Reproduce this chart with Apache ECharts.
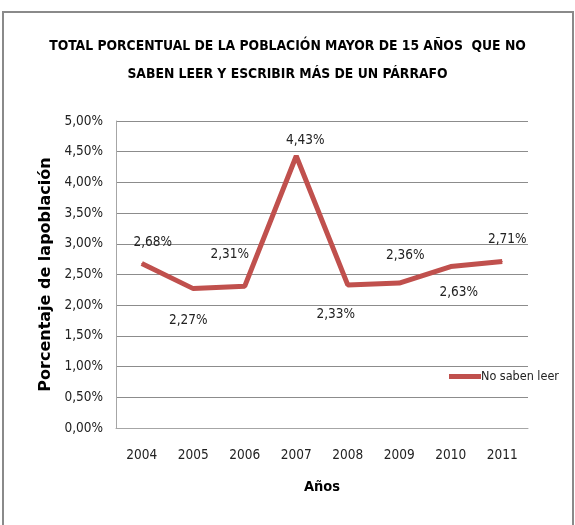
<!DOCTYPE html>
<html>
<head>
<meta charset="utf-8">
<script src="https://cdn.jsdelivr.net/npm/echarts@6/dist/echarts.min.js"></script>
<style>
  html, body { margin: 0; padding: 0; background: #fff; }
  #chart { width: 575px; height: 525px; }
</style>
</head>
<body>
<div id="chart"></div>
<script>
var years = ['2004', '2005', '2006', '2007', '2008', '2009', '2010', '2011'];
var noSabenLeer = [2.68, 2.27, 2.31, 4.43, 2.33, 2.36, 2.63, 2.71];
var yTicks = [0, 0.5, 1, 1.5, 2, 2.5, 3, 3.5, 4, 4.5, 5];
// where each value label sits relative to its point (like Excel's manual placement)
var labelOffsets = [[11, -21], [-5, 32], [-15, -32], [9, -15], [-12, 30], [6, -28], [8, 26], [5, -22]];

var narrow = "'Liberation Sans Narrow', 'DejaVu Sans Condensed', sans-serif";
var lineColor = '#c0504d';

function pct(v) {
    return v.toFixed(2).replace('.', ',') + '%';
}

var chart = echarts.init(document.getElementById('chart'));
var option = {
    animation: false,
    backgroundColor: '#fff',
    graphic: [{
        type: 'rect',
        shape: { x: 3, y: 12, width: 570, height: 600 },
        style: { fill: 'none', stroke: '#8a8a8a', lineWidth: 2 }
    }],
    title: {
        text: 'TOTAL PORCENTUAL DE LA POBLACIÓN MAYOR DE 15 AÑOS  QUE NO\nSABEN LEER Y ESCRIBIR MÁS DE UN PÁRRAFO',
        left: 'center',
        top: 27,
        textStyle: {
            fontFamily: narrow,
            fontSize: 13.8,
            fontWeight: 'bold',
            color: '#000',
            lineHeight: 28
        }
    },
    legend: {
        left: 444,
        top: 365,
        icon: 'rect',
        itemWidth: 32,
        itemHeight: 5,
        textStyle: { fontFamily: narrow, fontSize: 12.5, color: '#222', padding: [0, 0, 0, -5] },
        data: ['No saben leer']
    },
    grid: { left: 116, right: 47, top: 121, bottom: 97 },
    xAxis: {
        type: 'category',
        data: years,
        name: 'Años',
        nameLocation: 'middle',
        nameGap: 52,
        nameTextStyle: { fontFamily: narrow, fontSize: 14.5, fontWeight: 'bold', color: '#000' },
        axisLine: { lineStyle: { color: '#a6a6a6', width: 1 } },
        axisTick: { show: false },
        axisLabel: { fontFamily: narrow, fontSize: 13.5, color: '#222', margin: 20 }
    },
    yAxis: {
        type: 'value',
        min: yTicks[0],
        max: yTicks[yTicks.length - 1],
        interval: yTicks[1] - yTicks[0],
        name: 'Porcentaje de lapoblación',
        nameLocation: 'middle',
        nameGap: 61,
        nameTextStyle: { fontFamily: 'DejaVu Sans', fontSize: 16, fontWeight: 'bold', color: '#000' },
        axisLine: { show: true, lineStyle: { color: '#a6a6a6', width: 1 } },
        axisTick: { show: false },
        axisLabel: { fontFamily: narrow, fontSize: 13.5, color: '#222', margin: 13, formatter: pct },
        splitLine: { lineStyle: { color: '#8c8c8c', width: 1 } }
    },
    series: [{
        name: 'No saben leer',
        type: 'line',
        data: noSabenLeer.map(function (v, i) {
            return {
                value: v,
                label: { offset: labelOffsets[i] }
            };
        }),
        symbol: 'circle',
        symbolSize: 1,
        lineStyle: { color: lineColor, width: 5 },
        itemStyle: { color: lineColor },
        label: {
            show: true,
            position: 'inside',
            fontFamily: narrow,
            fontSize: 13.5,
            color: '#222',
            formatter: function (p) { return pct(p.value); }
        }
    }]
};
chart.setOption(option);
</script>
</body>
</html>
